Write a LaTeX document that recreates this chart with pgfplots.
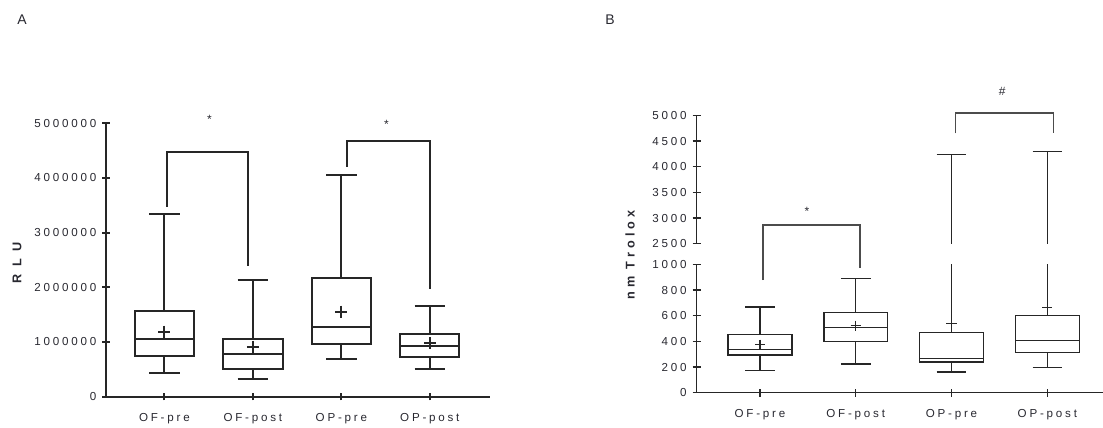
\documentclass[border=0pt]{standalone}
\usepackage{fontspec}
\setmainfont{Liberation Sans}
\newfontfamily\tickfont[LetterSpace=24]{Liberation Sans}
\newfontfamily\labfont[LetterSpace=33]{Liberation Sans}
\newfontfamily\rlufont[LetterSpace=60]{Liberation Sans}
\usepackage{pgfplots}
\pgfplotsset{compat=1.18}
\usepgfplotslibrary{statistics}
\definecolor{ink}{gray}{0.15}
\definecolor{txt}{RGB}{40,40,48}

\pgfplotsset{
  gp/.style={
    scale only axis,
    tick align=outside,
    tick style={line width=1.5pt, ink},
    major tick length=5.5pt,
    ticklabel style={font=\tickfont\fontsize{8.7}{10}\selectfont, text=txt},
    xtick={1,2,3,4},
    xticklabels={OF-pre,OF-post,OP-pre,OP-post},
    xticklabel style={yshift=-6pt},
    yticklabel style={xshift=-1pt},
    boxplot/draw direction=y,
  },
  noarrow/.style={
    x axis line style={-}, y axis line style={-},
    axis line style={line width=#1, ink},
  },
}

\begin{document}
\begin{tikzpicture}
\path[use as bounding box] (0,0) rectangle (827.25pt,321pt);

% panel labels
\node[font=\fontsize{10.5}{12}\selectfont, text=txt] at (16.5pt,306pt) {A};
\node[font=\fontsize{10.5}{12}\selectfont, text=txt] at (457.5pt,306pt) {B};
\node[font=\rlufont\fontsize{9.5}{11}\selectfont\bfseries, rotate=90, text=txt] at (12.75pt,123.75pt) {RLU};
\node[font=\labfont\fontsize{9.5}{11}\selectfont\bfseries, rotate=90, text=txt] at (472.5pt,129.75pt) {nm Trolox};

% ---------- panel A (RLU in millions) ----------
\begin{axis}[gp,
  at={(79.5pt,23.5pt)}, anchor=south west,
  width=288pt, height=205pt,
  axis lines=left, noarrow=1.5pt,
  xmin=0.34, xmax=4.68,
  ymin=0, ymax=5,
  ytick={0,1,2,3,4,5},
  yticklabels={0,1000000,2000000,3000000,4000000,5000000},
  clip=false,
  boxplot/box extend=0.67,
  boxplot/whisker extend=0.345,
]
\addplot[line width=1.5pt, ink, boxplot prepared={draw position=1,
  lower whisker=0.439, lower quartile=0.750, median=1.055,
  upper quartile=1.573, upper whisker=3.335}] coordinates {};
\addplot[line width=1.5pt, ink, boxplot prepared={draw position=2,
  lower whisker=0.323, lower quartile=0.512, median=0.780,
  upper quartile=1.049, upper whisker=2.134}] coordinates {};
\addplot[line width=1.5pt, ink, boxplot prepared={draw position=3,
  lower whisker=0.695, lower quartile=0.970, median=1.274,
  upper quartile=2.165, upper whisker=4.061}] coordinates {};
\addplot[line width=1.5pt, ink, boxplot prepared={draw position=4,
  lower whisker=0.512, lower quartile=0.726, median=0.933,
  upper quartile=1.152, upper whisker=1.659}] coordinates {};
% means
\addplot[only marks, mark=+, mark size=4.5pt, line width=1.5pt, ink]
  coordinates {(1,1.189) (2,0.915) (3,1.555) (4,0.976)};

\draw[line width=1.5pt, ink] (axis cs:1.03,3.476) -- (axis cs:1.03,4.482)
  -- (axis cs:1.95,4.482) -- (axis cs:1.95,2.396);
\draw[line width=1.5pt, ink] (axis cs:3.06,4.207) -- (axis cs:3.06,4.670)
  -- (axis cs:4.0,4.670) -- (axis cs:4.0,1.963);
\node[font=\fontsize{9}{10}\selectfont, text=txt] at (axis cs:1.51,5.08) {*};
\node[font=\fontsize{9}{10}\selectfont, text=txt] at (axis cs:3.51,4.98) {*};
\end{axis}

% ---------- panel B, lower part (nm Trolox in thousands) ----------
\begin{axis}[gp,
  at={(522.5pt,26.5pt)}, anchor=south west,
  width=304.7pt, height=96.2pt,
  axis lines=left, noarrow=1.1pt,
  tick style={line width=1.1pt},
  major tick length=6pt,
  xmin=0.34, xmax=4.58,
  ymin=0, ymax=1,
  ytick={0,0.2,0.4,0.6,0.8,1},
  yticklabels={0,200,400,600,800,1000},
  clip=true,
  boxplot/box extend=0.667,
  boxplot/whisker extend=0.31,
]
\addplot[line width=1.1pt, ink, boxplot prepared={draw position=1,
  lower whisker=0.171, lower quartile=0.293, median=0.335,
  upper quartile=0.452, upper whisker=0.667}] coordinates {};
\addplot[line width=1.1pt, ink, boxplot prepared={draw position=2,
  lower whisker=0.223, lower quartile=0.400, median=0.509,
  upper quartile=0.623, upper whisker=0.891}] coordinates {};
\addplot[line width=1.1pt, ink, boxplot prepared={draw position=3,
  lower whisker=0.161, lower quartile=0.239, median=0.267,
  upper quartile=0.470, upper whisker=4.240}] coordinates {};
\addplot[line width=1.1pt, ink, boxplot prepared={draw position=4,
  lower whisker=0.195, lower quartile=0.312, median=0.408,
  upper quartile=0.600, upper whisker=4.299}] coordinates {};
% means
\addplot[only marks, mark=+, mark size=3.8pt, line width=1.1pt, ink]
  coordinates {(1,0.374) (2,0.522) (3,0.538) (4,0.665)};
\coordinate (b1l) at (axis cs:1.03,0.878);
\coordinate (b1r) at (axis cs:2.045,0.969);
\end{axis}

% ---------- panel B, upper part ----------
\begin{axis}[gp,
  at={(522.5pt,138.2pt)}, anchor=south west,
  width=304.7pt, height=96.2pt,
  axis y line=left, axis x line=none, noarrow=1.1pt,
  tick style={line width=1.1pt},
  major tick length=6pt,
  xmin=0.34, xmax=4.58,
  ymin=2.5, ymax=5,
  ytick={2.5,3,3.5,4,4.5,5},
  yticklabels={2500,3000,3500,4000,4500,5000},
  clip=true,
  boxplot/box extend=0.667,
  boxplot/whisker extend=0.31,
]
\addplot[line width=1.1pt, ink, boxplot prepared={draw position=3,
  lower whisker=0.161, lower quartile=0.239, median=0.267,
  upper quartile=0.470, upper whisker=4.240}] coordinates {};
\addplot[line width=1.1pt, ink, boxplot prepared={draw position=4,
  lower whisker=0.195, lower quartile=0.312, median=0.408,
  upper quartile=0.600, upper whisker=4.299}] coordinates {};
\coordinate (b1t) at (axis cs:1.03,2.864);
\coordinate (b2l) at (axis cs:3.04,4.649);
\coordinate (b2r) at (axis cs:4.066,4.649);
\coordinate (b2t) at (axis cs:3.04,5.052);
\coordinate (s1) at (axis cs:1.49,3.13);
\coordinate (s2) at (axis cs:3.53,5.475);
\end{axis}

\draw[line width=1.1pt, black!70] (b1l) -- (b1l |- b1t) -- (b1r |- b1t) -- (b1r);
\draw[line width=1.1pt, black!70] (b2l) -- (b2l |- b2t) -- (b2r |- b2t) -- (b2r);
\node[font=\fontsize{9}{10}\selectfont, text=txt] at (s1) {*};
\node[font=\fontsize{9}{10}\selectfont, text=txt] at (s2) {\#};
\end{tikzpicture}
\end{document}
